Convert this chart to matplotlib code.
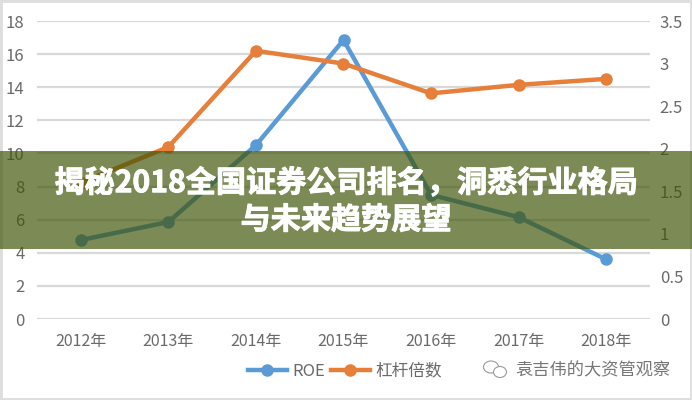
# -*- coding: utf-8 -*-
import matplotlib
matplotlib.use('Agg')
import matplotlib.pyplot as plt
import matplotlib.patheffects as pe
from matplotlib.patches import Ellipse, Rectangle

plt.rcParams['font.family'] = ['Noto Sans CJK SC', 'DejaVu Sans']

years = ['2012年', '2013年', '2014年', '2015年', '2016年', '2017年', '2018年']
roe = [4.77, 5.86, 10.5, 16.85, 7.5, 6.15, 3.6]
leverage = [1.6, 2.02, 3.15, 3.0, 2.65, 2.75, 2.82]
left_ticks = [0, 2, 4, 6, 8, 10, 12, 14, 16, 18]
right_ticks = [0, 0.5, 1, 1.5, 2, 2.5, 3, 3.5]
right_labels = ['0', '0.5', '1', '1.5', '2', '2.5', '3', '3.5']
title_lines = ['揭秘2018全国证券公司排名，洞悉行业格局', '与未来趋势展望']
legend_names = ['ROE', '杠杆倍数']
watermark = '袁吉伟的大资管观察'

W, H = 692, 400
BLUE = '#5b9bd5'
ORANGE = '#e57f39'
GREY = '#6a6a6a'

fig = plt.figure(figsize=(W / 100, H / 100), dpi=100)
ax = fig.add_axes([37 / W, 1 - 319 / H, 613 / W, 298 / H])
ax2 = ax.twinx()

x = range(len(years))
l1, = ax.plot(x, roe, color=BLUE, lw=3.2, marker='o', ms=8, label=legend_names[0], zorder=3)
l2, = ax2.plot(x, leverage, color=ORANGE, lw=3.2, marker='o', ms=8, label=legend_names[1], zorder=3)

ax.set_xlim(-0.5, 6.5)
ax.set_ylim(0, 18)
ax2.set_ylim(0, 3.5)
ax.set_xticks(list(x))
ax.set_xticklabels(years)
ax.set_yticks(left_ticks)
ax2.set_yticks(right_ticks)
ax2.set_yticklabels(right_labels)
ax.grid(axis='y', color='#d9d9d9', lw=1.6)
ax.set_axisbelow(True)
ax.tick_params(axis='x', length=0, labelsize=11.5, labelcolor=GREY, pad=10)
ax.tick_params(axis='y', length=0, labelsize=12, labelcolor=GREY, pad=9)
ax2.tick_params(axis='y', length=0, labelsize=12, labelcolor=GREY, pad=7)
for a in (ax, ax2):
    for s in a.spines.values():
        s.set_visible(False)

# legend sits under the axis, the watermark to the right of it
fig.legend(handles=[l1, l2], loc='center', bbox_to_anchor=(345 / W, 1 - 371 / H), ncol=2,
           frameon=False, fontsize=12, labelcolor=GREY, handlelength=2.35,
           columnspacing=0.3, handletextpad=0.35)
fig.text(593 / W, 1 - 370 / H, watermark, ha='center', va='center', fontsize=12.4, color='#777777')
fig.add_artist(Ellipse((491 / W, 1 - 367 / H), 15 / W, 12 / H, fill=False, ec='#999999', lw=0.8))
fig.add_artist(Ellipse((500 / W, 1 - 372 / H), 13 / W, 11 / H, fc='white', ec='#999999', lw=0.8))

# grey frame of the screenshot
fig.add_artist(Rectangle((0, 0), 1, 1, fill=False, ec='#dedede', lw=3.5))

# olive banner over the chart
fig.add_artist(Rectangle((0, 1 - 249 / H), 1, 98 / H, fc='#3e5306', ec='none', alpha=0.68))
for line, py in zip(title_lines, [183, 220]):
    fig.text(346 / W, 1 - py / H, line, ha='center', va='center', fontsize=21.7,
             fontweight='bold', color='white',
             path_effects=[pe.withStroke(linewidth=0.7, foreground='white')])

fig.savefig('out.png', dpi=100)
